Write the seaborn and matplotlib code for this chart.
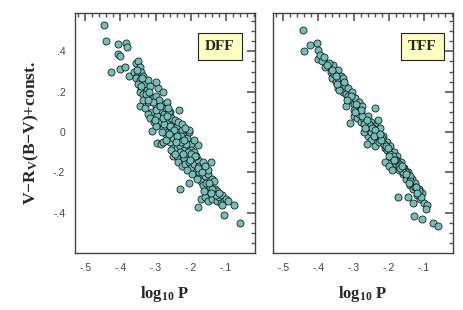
import numpy as np
import matplotlib
matplotlib.use("Agg")
import matplotlib.pyplot as plt
from matplotlib.ticker import MultipleLocator, FuncFormatter
import seaborn as sns

# DFF panel: log10 P vs V-Rv(B-V)+const.
dff_x = [-0.446, -0.44, -0.408, -0.385, -0.38, -0.406, -0.40, -0.426, -0.40, -0.386, -0.374,
         -0.355, -0.35, -0.345, -0.36, -0.35, -0.34, -0.355, -0.345, -0.335, -0.35, -0.34, -0.33,
         -0.345, -0.335, -0.325, -0.32, -0.315, -0.345, -0.33, -0.32, -0.31, -0.30, -0.31, -0.32,
         -0.30, -0.294, -0.28, -0.295, -0.29, -0.285, -0.28, -0.275, -0.27, -0.265, -0.26, -0.27,
         -0.28, -0.266, -0.234, -0.262, -0.27, -0.265, -0.26, -0.255, -0.25, -0.245, -0.24, -0.235,
         -0.23, -0.225, -0.22, -0.215, -0.25, -0.24, -0.26, -0.23, -0.22, -0.21, -0.205, -0.20,
         -0.18, -0.206, -0.31, -0.297, -0.285, -0.28, -0.25, -0.24, -0.235, -0.23, -0.225, -0.22,
         -0.215, -0.21, -0.205, -0.20, -0.195, -0.19, -0.185, -0.18, -0.175, -0.17, -0.165, -0.16,
         -0.206, -0.143, -0.17, -0.165, -0.16, -0.155, -0.15, -0.145, -0.14, -0.15, -0.135, -0.23,
         -0.18, -0.17, -0.16, -0.15, -0.14, -0.13, -0.125, -0.12, -0.115, -0.11, -0.105, -0.13,
         -0.125, -0.10, -0.095, -0.106, -0.077, -0.06, -0.315, -0.305, -0.29, -0.275, -0.255,
         -0.245, -0.235, -0.225, -0.215, -0.2, -0.19, -0.24, -0.255, -0.3, -0.325, -0.265, -0.25,
         -0.21, -0.195, -0.185, -0.175, -0.335, -0.3, -0.27, -0.245, -0.228, -0.212, -0.19,
         -0.352, -0.338, -0.327, -0.318, -0.306, -0.298, -0.288, -0.278, -0.268, -0.258, -0.248,
         -0.238, -0.228, -0.218, -0.208, -0.198, -0.188, -0.178, -0.168, -0.158, -0.148, -0.138,
         -0.128, -0.118, -0.342, -0.322, -0.302, -0.282, -0.262, -0.242, -0.222, -0.202, -0.182,
         -0.162, -0.142, -0.112]
dff_y = [0.53, 0.45, 0.435, 0.44, 0.42, 0.385, 0.375, 0.30, 0.315, 0.32, 0.28,
         0.34, 0.35, 0.32, 0.30, 0.29, 0.30, 0.27, 0.26, 0.28, 0.24, 0.22, 0.24,
         0.20, 0.19, 0.21, 0.26, 0.23, 0.13, 0.12, 0.15, 0.17, 0.18, 0.10, 0.09,
         0.13, 0.22, 0.20, 0.08, 0.05, 0.11, 0.14, 0.09, 0.12, 0.06, 0.10, 0.03,
         0.02, 0.15, 0.11, 0.10, -0.01, 0.0, -0.03, 0.02, 0.04, -0.01, 0.03, -0.04,
         0.0, 0.01, -0.02, -0.05, -0.06, -0.08, -0.05, -0.07, -0.09, -0.03, 0.0, -0.06,
         -0.065, 0.01, 0.005, -0.055, -0.06, -0.05, -0.12, -0.12, -0.15, -0.10, -0.17, -0.13,
         -0.16, -0.11, -0.15, -0.18, -0.13, -0.16, -0.20, -0.14, -0.17, -0.22, -0.15, -0.19,
         -0.25, -0.15, -0.24, -0.26, -0.22, -0.25, -0.21, -0.27, -0.23, -0.19, -0.24, -0.28,
         -0.37, -0.33, -0.32, -0.34, -0.33, -0.30, -0.34, -0.32, -0.35, -0.31, -0.34, -0.28,
         -0.29, -0.33, -0.34, -0.41, -0.36, -0.45, 0.07, 0.05, 0.16, 0.04, 0.07,
         0.06, 0.05, 0.04, 0.02, -0.09, -0.10, -0.02, -0.09, 0.25, 0.18, 0.12, -0.03,
         -0.19, -0.21, -0.12, -0.2, 0.16, 0.03, -0.04, -0.11, -0.02, -0.06, -0.04,
         0.31, 0.27, 0.19, 0.2, 0.15, 0.11, 0.13, 0.07, 0.08, 0.03, 0.01,
         -0.02, -0.05, -0.04, -0.1, -0.11, -0.12, -0.18, -0.2, -0.17, -0.25, -0.28,
         -0.31, -0.3, 0.23, 0.16, 0.06, 0.0, -0.01, -0.05, -0.11, -0.14, -0.23,
         -0.29, -0.3, -0.36]

# TFF panel
tff_x = [-0.444, -0.44, -0.425, -0.405, -0.40, -0.40, -0.39, -0.38, -0.395, -0.385,
         -0.357, -0.343, -0.337, -0.365, -0.37, -0.36, -0.35, -0.345, -0.355, -0.34, -0.335,
         -0.33, -0.325, -0.33, -0.32, -0.315, -0.31, -0.305, -0.30, -0.295, -0.29, -0.285,
         -0.28, -0.32, -0.31, -0.30, -0.29, -0.285, -0.275, -0.28, -0.24, -0.27, -0.265,
         -0.26, -0.255, -0.25, -0.245, -0.24, -0.235, -0.23, -0.225, -0.22, -0.26, -0.25,
         -0.263, -0.24, -0.23, -0.215, -0.21, -0.27, -0.205, -0.20, -0.195, -0.19, -0.185,
         -0.18, -0.175, -0.17, -0.165, -0.16, -0.21, -0.20, -0.19, -0.155, -0.15, -0.145,
         -0.14, -0.135, -0.13, -0.125, -0.12, -0.115, -0.11, -0.105, -0.10, -0.174, -0.146,
         -0.13, -0.129, -0.106, -0.09, -0.095, -0.074, -0.06, -0.35, -0.34, -0.315, -0.3,
         -0.275, -0.255, -0.245, -0.232, -0.218, -0.205, -0.195, -0.18, -0.17, -0.16,
         -0.15, -0.14, -0.125, -0.115, -0.27, -0.25, -0.228, -0.212, -0.188, -0.172, -0.158,
         -0.375, -0.362, -0.348, -0.328, -0.308, -0.292, -0.278, -0.262, -0.248, -0.238,
         -0.222, -0.208, -0.198, -0.182, -0.168, -0.152, -0.138, -0.122, -0.108, -0.318,
         -0.296, -0.268, -0.242, -0.226, -0.202, -0.186, -0.162, -0.142, -0.118]
tff_y = [0.505, 0.40, 0.43, 0.44, 0.405, 0.36, 0.35, 0.32, 0.38, 0.37,
         0.33, 0.31, 0.28, 0.30, 0.34, 0.27, 0.25, 0.22, 0.29, 0.26, 0.24,
         0.20, 0.23, 0.27, 0.19, 0.22, 0.16, 0.20, 0.14, 0.17, 0.12, 0.15,
         0.10, 0.13, 0.045, 0.08, 0.07, 0.09, 0.13, 0.05, 0.12, 0.06, 0.03,
         0.08, 0.01, 0.05, -0.01, 0.03, 0.0, -0.03, 0.02, -0.05, -0.02, -0.04,
         -0.06, -0.07, 0.06, -0.02, -0.08, 0.0, -0.05, -0.10, -0.07, -0.13, -0.10,
         -0.16, -0.12, -0.19, -0.15, -0.21, -0.15, -0.17, -0.19, -0.18, -0.23, -0.20,
         -0.26, -0.23, -0.28, -0.25, -0.31, -0.28, -0.33, -0.30, -0.35, -0.32, -0.32,
         -0.35, -0.415, -0.43, -0.36, -0.38, -0.45, -0.465, 0.28, 0.21, 0.18, 0.11,
         0.08, 0.04, 0.02, -0.01, -0.03, -0.09, -0.11, -0.14, -0.16, -0.18,
         -0.20, -0.22, -0.27, -0.29, 0.04, 0.0, -0.05, -0.06, -0.12, -0.17, -0.2,
         0.33, 0.31, 0.24, 0.25, 0.18, 0.14, 0.11, 0.06, 0.02, 0.01,
         -0.04, -0.07, -0.12, -0.14, -0.18, -0.21, -0.24, -0.27, -0.32, 0.16,
         0.1, 0.02, -0.02, -0.01, -0.08, -0.14, -0.17, -0.25, -0.3]

sns.set_style("white")
plt.rcParams["mathtext.fontset"] = "custom"
plt.rcParams["mathtext.rm"] = "Liberation Serif:bold"
plt.rcParams["mathtext.it"] = "Liberation Serif:bold"
plt.rcParams["mathtext.bf"] = "Liberation Serif:bold"

fig = plt.figure(figsize=(4.63, 3.10), dpi=100)
ax1 = fig.add_axes([75 / 463, 57 / 310, 180 / 463, 240 / 310])
ax2 = fig.add_axes([273 / 463, 57 / 310, 180 / 463, 240 / 310])


def short(v, pos):
    if abs(v) < 1e-9:
        return "0"
    return f"{v:.1f}".replace("0.", ".")


for ax, xs, ys, tag in [(ax1, dff_x, dff_y, "DFF"), (ax2, tff_x, tff_y, "TFF")]:
    sns.scatterplot(x=xs, y=ys, ax=ax, s=26, color="#72bfba",
                    edgecolor="#111111", linewidth=0.55, zorder=3)
    ax.set_xlim(-0.529, -0.017)
    ax.set_ylim(-0.599, 0.59)
    ax.xaxis.set_major_locator(MultipleLocator(0.1))
    ax.xaxis.set_minor_locator(MultipleLocator(0.02))
    ax.yaxis.set_major_locator(MultipleLocator(0.2))
    ax.yaxis.set_minor_locator(MultipleLocator(0.05))
    ax.xaxis.set_major_formatter(FuncFormatter(short))
    ax.yaxis.set_major_formatter(FuncFormatter(short))
    ax.tick_params(which="both", direction="in", top=True, right=True,
                   color="#555555", labelsize=7.5, labelcolor="#444444")
    ax.tick_params(which="major", length=6, width=1.2, pad=7)
    ax.tick_params(which="minor", length=3, width=1.0)
    for lab in ax.get_xticklabels() + ax.get_yticklabels():
        lab.set_family("Liberation Sans")
    for sp in ax.spines.values():
        sp.set_color("#444444")
        sp.set_linewidth(1.0)
    ax.set_xlabel("log$_{10}$ P", fontsize=12, fontweight="bold",
                  family="Liberation Serif", labelpad=8)
    ax.text(0.83 if tag == "TFF" else 0.805, 0.86, tag, transform=ax.transAxes,
            ha="center", va="center", fontsize=11, fontweight="bold",
            family="Liberation Serif", zorder=5,
            bbox=dict(boxstyle="square,pad=0.45", facecolor="#ffffc0",
                      edgecolor="#222222", linewidth=0.8))

ax2.set_yticklabels([])
ax1.set_ylabel("V$-$R$_V$(B$-$V)+const.", fontsize=12.5, fontweight="bold",
               family="Liberation Serif", labelpad=9)

fig.savefig("out.png", dpi=100, facecolor="white")
